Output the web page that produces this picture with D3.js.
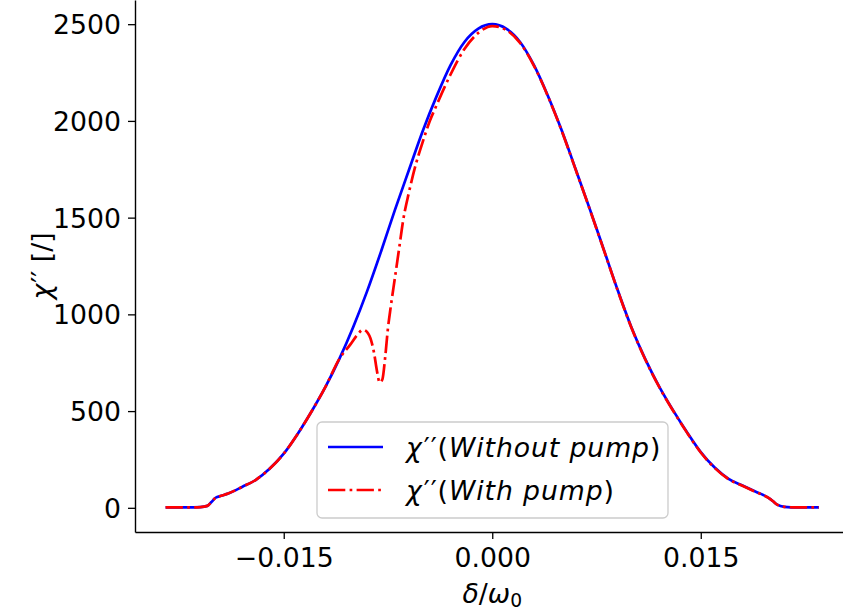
<!DOCTYPE html>
<html>
<head>
<meta charset="utf-8">
<script src="https://cdn.jsdelivr.net/npm/d3@7"></script>
<style>
  body { margin: 0; background: #fff; }
  svg { display: block; }
  text { font-family: "DejaVu Sans", sans-serif; fill: #000; }
</style>
</head>
<body>
<svg id="chart" width="843" height="614"></svg>
<script>
// detuning values (delta / omega_0) and chi''
const xWithout = [-0.0235, -0.022, -0.021, -0.0205, -0.0202, -0.0199, -0.0195, -0.019, -0.018, -0.017,
    -0.016, -0.015, -0.014, -0.013, -0.012, -0.011, -0.010, -0.009, -0.008, -0.007,
    -0.006, -0.005, -0.004, -0.003, -0.002, -0.001, 0,
    0.001, 0.002, 0.003, 0.004, 0.005, 0.006, 0.007, 0.008, 0.009, 0.010,
    0.011, 0.012, 0.013, 0.014, 0.015, 0.016, 0.017, 0.018, 0.019, 0.0195,
    0.0199, 0.0202, 0.0205, 0.021, 0.022, 0.0235];
const yWithout = [2, 2, 4, 10, 30, 52, 62, 74, 108, 145,
    203, 280, 382, 498, 625, 770, 935, 1120, 1325, 1540,
    1745, 1948, 2128, 2288, 2408, 2477, 2500,
    2477, 2408, 2288, 2130, 1950, 1750, 1548, 1340, 1130, 935,
    770, 628, 505, 392, 288, 208, 150, 115, 82, 66,
    50, 34, 16, 5, 2, 2];

const xWith = [-0.0235, -0.022, -0.021, -0.0205, -0.0202, -0.0199, -0.0195, -0.019, -0.018, -0.017,
    -0.016, -0.015, -0.014, -0.013, -0.012, -0.011, -0.0102, -0.0097, -0.0093, -0.0090,
    -0.0087, -0.0085, -0.0083, -0.0081, -0.0079, -0.0077, -0.0075, -0.0073, -0.0070, -0.0067,
    -0.0064, -0.006, -0.0055, -0.005, -0.0045, -0.004, -0.003, -0.002, -0.001, 0,
    0.001, 0.002, 0.003, 0.004, 0.005, 0.006, 0.007, 0.008, 0.009, 0.010,
    0.011, 0.012, 0.013, 0.014, 0.015, 0.016, 0.017, 0.018, 0.019, 0.0195,
    0.0199, 0.0202, 0.0205, 0.021, 0.022, 0.0235];
const yWith = [2, 2, 4, 10, 30, 52, 62, 74, 108, 145,
    203, 280, 382, 498, 625, 770, 845, 895, 920, 908,
    862, 800, 710, 648, 665, 780, 930, 1040, 1190, 1340,
    1490, 1628, 1775, 1892, 1998, 2082, 2240, 2372, 2455, 2490,
    2470, 2403, 2285, 2128, 1948, 1748, 1546, 1338, 1128, 933,
    768, 626, 503, 390, 286, 206, 148, 114, 81, 65,
    50, 34, 16, 5, 2, 2];

const xTicks = [-0.015, 0, 0.015];
const yTicks = [0, 500, 1000, 1500, 2000, 2500];

const FONT = 26.7;
const MARGIN = { left: 135, top: 0, right: 849.5, bottom: 532 };

const svg = d3.select('#chart');

const scaleX = d3.scaleLinear()
    .domain([-0.0257, 0.0257])
    .range([MARGIN.left, MARGIN.right]);

const scaleY = d3.scaleLinear()
    .domain([-125, 2625])
    .range([MARGIN.bottom, MARGIN.top]);

// axes
const xAxis = d3.axisBottom(scaleX)
    .tickValues(xTicks)
    .tickFormat(d3.format('.3f'))
    .tickSize(7).tickSizeOuter(0).tickPadding(9);

const yAxis = d3.axisLeft(scaleY)
    .tickValues(yTicks)
    .tickFormat(d3.format('d'))
    .tickSize(7).tickSizeOuter(0).tickPadding(7);

const gx = svg.append('g')
    .attr('transform', `translate(0,${MARGIN.bottom})`)
    .call(xAxis);
const gy = svg.append('g')
    .attr('transform', `translate(${MARGIN.left},0)`)
    .call(yAxis);

[gx, gy].forEach(g => {
    g.selectAll('text').style('font-size', FONT + 'px').attr('fill', '#000')
        .style('font-family', '"DejaVu Sans", sans-serif');
    g.selectAll('line').attr('stroke', '#000').attr('stroke-width', 1.3);
    g.select('.domain').attr('stroke', '#000').attr('stroke-width', 1.4);
});
gy.selectAll('.tick text').attr('dy', '0.36em');

// lines
const line = d3.line()
    .x(d => scaleX(d[0]))
    .y(d => scaleY(d[1]))
    .curve(d3.curveMonotoneX);

const withoutPts = xWithout.map((x, i) => [x, yWithout[i]]);
const withPts = xWith.map((x, i) => [x, yWith[i]]);

svg.append('path')
    .datum(withoutPts)
    .attr('d', line)
    .attr('fill', 'none')
    .attr('stroke', '#0000ff')
    .attr('stroke-width', 2.7);

svg.append('path')
    .datum(withPts)
    .attr('d', line)
    .attr('fill', 'none')
    .attr('stroke', '#ff0000')
    .attr('stroke-width', 2.7)
    .attr('stroke-dasharray', '17.3,4.3,2.7,4.3');

// axis labels
const xLabel = svg.append('text')
    .attr('x', (MARGIN.left + MARGIN.right) / 2)
    .attr('y', 603)
    .attr('text-anchor', 'middle')
    .style('font-size', FONT + 'px');
xLabel.append('tspan').style('font-style', 'italic').text('δ');
xLabel.append('tspan').text('/');
xLabel.append('tspan').style('font-style', 'italic').text('ω');
xLabel.append('tspan').attr('dy', '0.22em').style('font-size', (FONT * 0.7) + 'px').text('0');

const yLabel = svg.append('text')
    .attr('transform', `translate(41,${(MARGIN.top + MARGIN.bottom) / 2}) rotate(-90)`)
    .attr('text-anchor', 'middle')
    .attr('dy', '0.36em')
    .style('font-size', FONT + 'px');
yLabel.append('tspan').style('font-style', 'italic').text('χ');
yLabel.append('tspan').attr('dx', '1').text('′′');
yLabel.append('tspan').text(' [/]');

// legend
const legend = svg.append('g');
legend.append('rect')
    .attr('x', 317).attr('y', 422)
    .attr('width', 351).attr('height', 96)
    .attr('rx', 5)
    .attr('fill', '#fff').attr('fill-opacity', 0.8)
    .attr('stroke', '#cccccc').attr('stroke-width', 1.3);

const entries = [
    { label: 'Without pump', color: '#0000ff', dash: null },
    { label: 'With pump', color: '#ff0000', dash: '17.3,4.3,2.7,4.3' }
];
entries.forEach((e, i) => {
    const cy = 447 + i * 43;
    legend.append('line')
        .attr('x1', 328).attr('x2', 383)
        .attr('y1', cy).attr('y2', cy)
        .attr('stroke', e.color).attr('stroke-width', 2.7)
        .attr('stroke-dasharray', e.dash);
    const t = legend.append('text')
        .attr('x', 406).attr('y', cy)
        .attr('dy', '0.36em')
        .style('font-size', FONT + 'px')
        .style('letter-spacing', '0.9px');
    t.append('tspan').style('font-style', 'italic').text('χ');
    t.append('tspan').attr('dx', '1').text('′′(');
    t.append('tspan').style('font-style', 'italic').text(e.label);
    t.append('tspan').text(')');
});
</script>
</body>
</html>
